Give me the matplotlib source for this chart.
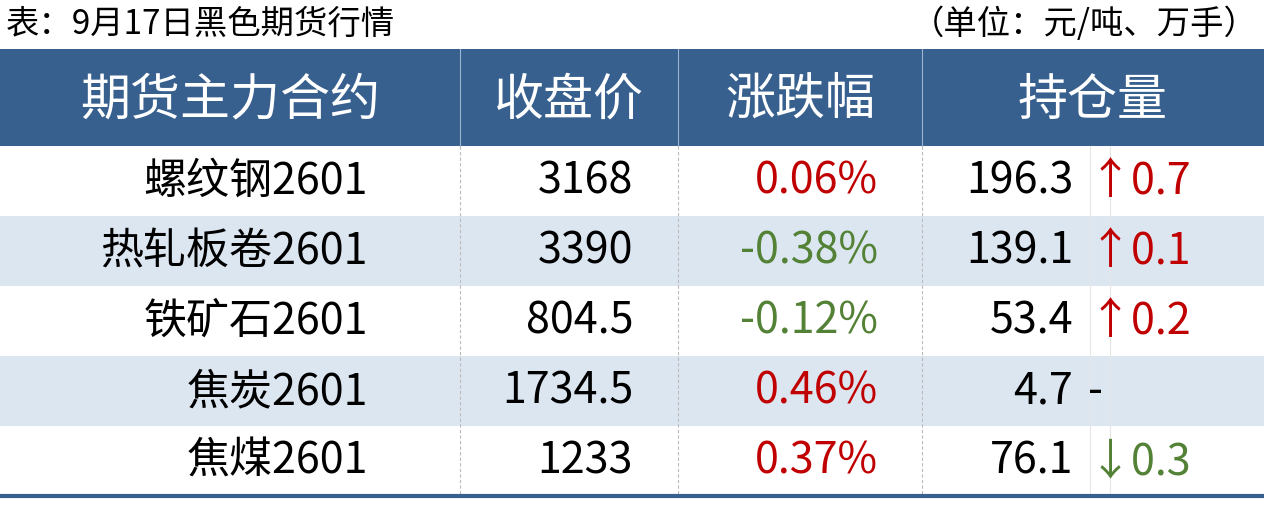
import matplotlib
matplotlib.use("Agg")
import matplotlib.pyplot as plt
from matplotlib.patches import Rectangle

plt.rcParams['font.family'] = ['Noto Sans CJK SC', 'DejaVu Sans']

title = "表：9月17日黑色期货行情"
unit = "（单位：元/吨、万手）"
headers = ["期货主力合约", "收盘价", "涨跌幅", "持仓量"]
contracts = ["螺纹钢2601", "热轧板卷2601", "铁矿石2601", "焦炭2601", "焦煤2601"]
closes = ["3168", "3390", "804.5", "1734.5", "1233"]
changes = [0.06, -0.38, -0.12, 0.46, 0.37]
positions = ["196.3", "139.1", "53.4", "4.7", "76.1"]
pos_changes = [0.7, 0.1, 0.2, 0.0, -0.3]

RED = "#C00000"
GREEN = "#538135"
BLUE = "#37608F"
SHADE = "#DCE6F1"

fig = plt.figure(figsize=(12.64, 5.09), dpi=100)
ax = fig.add_axes([0, 0, 1, 1])
ax.set_xlim(0, 1264)
ax.set_ylim(509, 0)
ax.axis('off')

ax.text(6, 24, title, fontsize=24, va='center', ha='left', fontweight='medium')
ax.text(1258, 24, unit, fontsize=24, va='center', ha='right', fontweight='medium')

head_top, head_bot = 49, 146
row_h = 70
col_edges = [0, 460, 678, 922, 1264]
ax.add_patch(Rectangle((0, head_top), 1264, head_bot - head_top, color=BLUE, lw=0))
for i, h in enumerate(headers):
    cx = (col_edges[i] + col_edges[i + 1]) / 2
    ax.text(cx, (head_top + head_bot) / 2 + 3, h, color='white', fontsize=36,
            ha='center', va='center')
for x in col_edges[1:-1]:
    ax.plot([x, x], [head_top, head_bot], color='#9FB3CC', lw=0.8)

n = len(contracts)
bottom = head_bot + n * row_h
for i in range(n):
    y0 = head_bot + i * row_h
    if i % 2 == 1:
        ax.add_patch(Rectangle((0, y0), 1264, row_h, color=SHADE, lw=0))
for x in col_edges[1:-1]:
    ax.plot([x, x], [head_bot, bottom], color='#BBBBBB', lw=0.8, ls=(0, (3, 2)))
for x in [1090, 1110]:
    ax.plot([x, x], [head_bot, bottom], color='#E6E6E6', lw=0.8)

for i in range(n):
    yc = head_bot + i * row_h + row_h / 2 + 1
    fs = 31
    kw = dict(fontsize=fs, va='center', fontweight='medium')
    ax.text(368, yc, contracts[i], ha='right', **kw)
    ax.text(633, yc, closes[i], ha='right', **kw)
    c = changes[i]
    ax.text(878, yc, f"{c:.2f}%", ha='right', color=RED if c >= 0 else GREEN, **kw)
    ax.text(1073, yc, positions[i], ha='right', **kw)
    p = pos_changes[i]
    if p > 0:
        s, col = f"↑{p:.1f}", RED
    elif p < 0:
        s, col = f"↓{-p:.1f}", GREEN
    else:
        s, col = "-", 'black'
    ax.text(1088, yc, s, ha='left', color=col, **kw)

ax.plot([0, 1264], [bottom, bottom], color=BLUE, lw=3)

fig.savefig("out.png", dpi=100)
